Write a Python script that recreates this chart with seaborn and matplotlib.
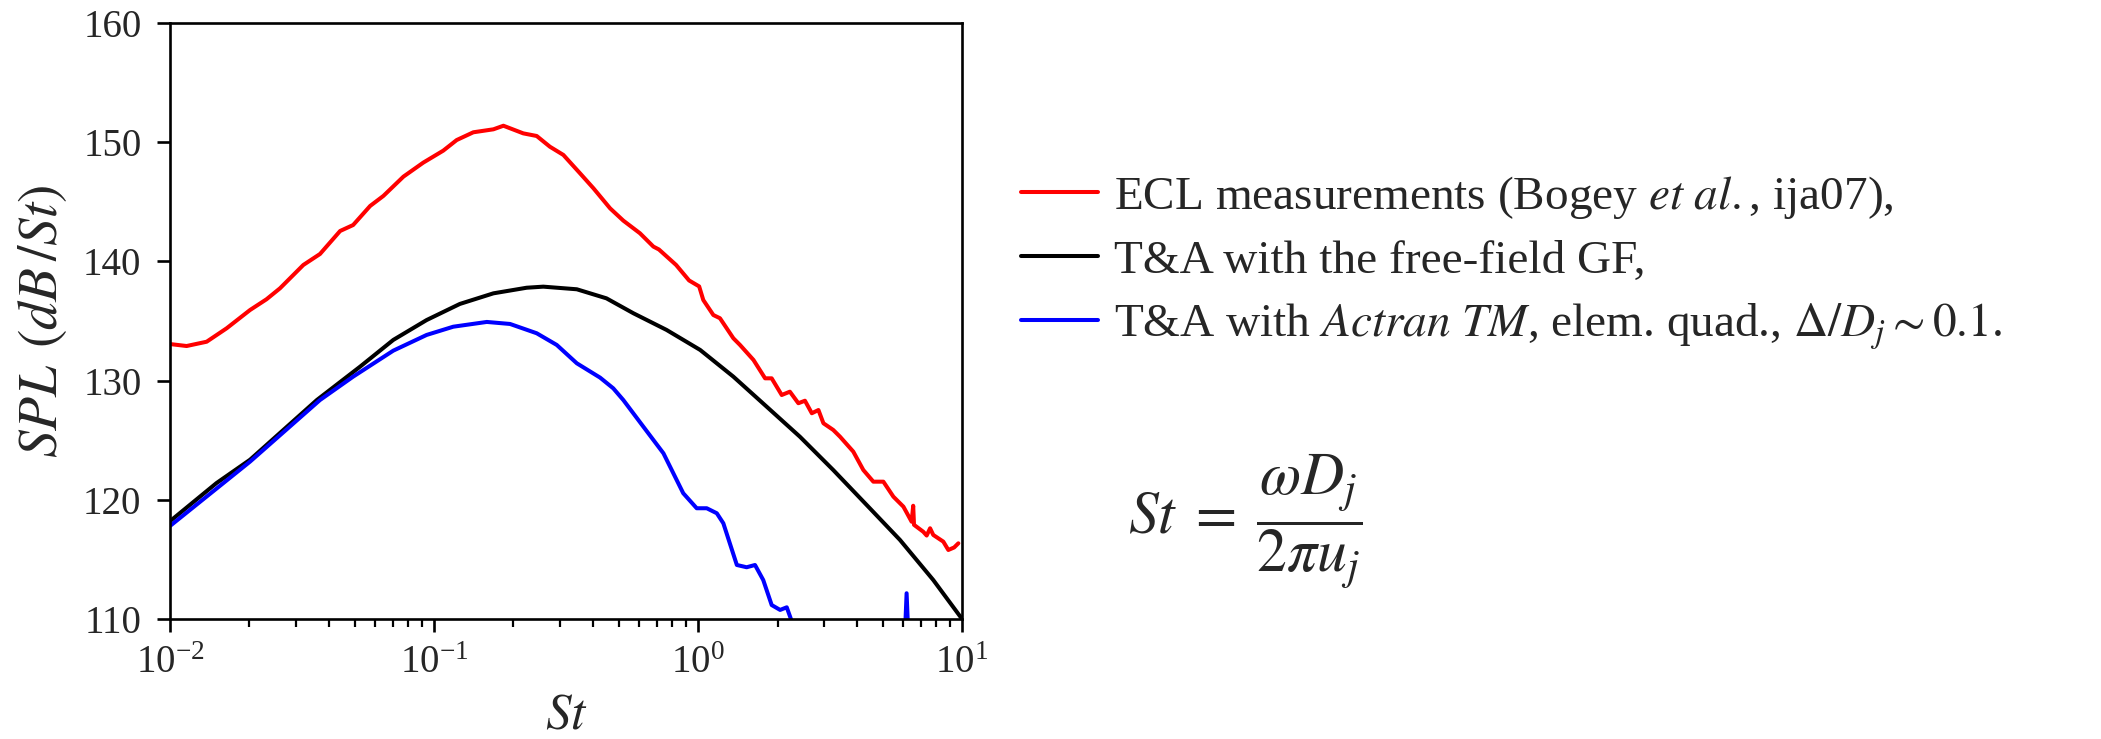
import matplotlib
matplotlib.use("Agg")
import matplotlib.pyplot as plt
import seaborn as sns
import pandas as pd

# ---------------- data ----------------
ecl_st = [0.01014, 0.01156, 0.01377, 0.0164, 0.0201, 0.0232, 0.0261, 0.0320, 0.0370,
          0.0441, 0.0494, 0.0573, 0.0643, 0.0766, 0.0910, 0.1084, 0.1219, 0.1409,
          0.1679, 0.1832, 0.2178, 0.2449, 0.2748, 0.3090, 0.3573, 0.4018, 0.4645,
          0.5212, 0.6026, 0.6776, 0.711, 0.826, 0.925, 1.01, 1.047, 1.143, 1.211,
          1.361, 1.442, 1.622, 1.795, 1.901, 2.075, 2.228, 2.399, 2.541, 2.698, 2.858,
          2.985, 3.251, 3.451, 3.873, 4.227, 4.613, 5.035, 5.495, 5.998, 6.442, 6.531,
          6.577, 7.129, 7.345, 7.568, 7.780, 8.492, 8.872, 9.333, 9.683]
ecl_spl = [133.05, 132.9, 133.26, 134.39, 135.92, 136.82, 137.74, 139.70, 140.62,
           142.55, 143.05, 144.65, 145.49, 147.11, 148.28, 149.29, 150.18, 150.83,
           151.08, 151.38, 150.74, 150.52, 149.62, 148.93, 147.39, 146.13, 144.45,
           143.42, 142.36, 141.24, 141.0, 139.7, 138.4, 137.9, 136.76, 135.50, 135.23,
           133.55, 132.99, 131.73, 130.19, 130.19, 128.79, 129.07, 128.10, 128.31, 127.26,
           127.53, 126.42, 125.86, 125.29, 124.04, 122.50, 121.52, 121.52, 120.26, 119.42,
           118.16, 119.5, 117.9, 117.32, 117.0, 117.61, 117.05, 116.49, 115.79, 116.0,
           116.35]

ff_st = [0.01, 0.0150, 0.0201, 0.0360, 0.0525, 0.0701, 0.0938, 0.1253, 0.1679,
         0.2244, 0.2594, 0.3475, 0.45, 0.5689, 0.760, 1.019, 1.361, 1.820, 2.432,
         3.251, 4.355, 5.821, 7.780, 10.0]
ff_spl = [118.2, 121.4, 123.36, 128.37, 131.17, 133.41, 135.08, 136.43, 137.32,
          137.79, 137.88, 137.66, 136.9, 135.65, 134.25, 132.57, 130.33, 127.81, 125.29,
          122.50, 119.56, 116.63, 113.27, 110.0]

act_st = [0.01, 0.0201, 0.0370, 0.0494, 0.0701, 0.0938, 0.1183, 0.1585, 0.1941,
          0.2449, 0.2917, 0.3475, 0.4256, 0.4775, 0.5212, 0.6209, 0.7396, 0.8790,
          0.9886, 1.079, 1.178, 1.247, 1.403, 1.528, 1.644, 1.766, 1.901, 2.046,
          2.168, 2.265, 2.5, 3.5, 5.0, 5.957, 6.166, 6.383, 7.5, 9.5]
act_spl = [117.8, 123.2, 128.37, 130.33, 132.51, 133.83, 134.52, 134.92, 134.75,
           133.97, 132.99, 131.45, 130.25, 129.35, 128.37, 126.13, 123.90, 120.55,
           119.29, 119.29, 118.87, 118.03, 114.53, 114.34, 114.53, 113.27, 111.17, 110.76,
           110.98, 109.8, 107.0, 104.0, 102.0, 104.0, 112.16, 104.0, 100.0, 98.0]

labels = [r"ECL measurements (Bogey $\mathit{et\ al.}$, ija07),",
          r"T&A with the free-field GF,",
          r"T&A with $\mathit{Actran\ TM}$, elem. quad., $\Delta/D_j \sim 0.1$."]
colors = ["#ff0000", "#000000", "#0000ff"]

x_ticks = [0.01, 0.1, 1, 10]
y_ticks = [110, 120, 130, 140, 150, 160]

# ---------------- style ----------------
sns.set_style("ticks")
plt.rcParams["font.family"] = ["Liberation Serif", "DejaVu Serif"]
plt.rcParams["mathtext.fontset"] = "stix"

fig = plt.figure(figsize=(21.01, 7.39), dpi=100)
ax = fig.add_axes([0.0809, 0.1624, 0.377, 0.8065])

series = [(ecl_st, ecl_spl), (ff_st, ff_spl), (act_st, act_spl)]
for (xs, ys), lab, col in zip(series, labels, colors):
    df = pd.DataFrame({"St": xs, "SPL": ys})
    sns.lineplot(data=df, x="St", y="SPL", ax=ax, color=col, lw=2.9,
                 estimator=None, sort=False, label=lab)

ax.set_xscale("log")
ax.set_xlim(0.01, 10)
ax.set_ylim(110, 160)
ax.set_xticks(x_ticks)
ax.set_yticks(y_ticks)

for sp in ax.spines.values():
    sp.set_visible(True)
    sp.set_linewidth(1.9)
    sp.set_color("black")

ax.tick_params(axis="both", which="major", length=9.5, width=1.9, labelsize=28,
               color="black", direction="out")
ax.tick_params(axis="x", which="minor", length=5.5, width=1.6, color="black")
ax.tick_params(axis="y", which="major", pad=11)
ax.tick_params(axis="x", which="major", pad=9)

ax.set_xlabel(r"$St$", fontsize=37, labelpad=8)
ax.set_ylabel(r"$SPL\;\,(dB\,/St)$", fontsize=40, labelpad=10)

ax.get_legend().remove()
handles, labs = ax.get_legend_handles_labels()
fig.legend(handles, labs, loc="center left", bbox_to_anchor=(0.486, 0.644),
           frameon=False, fontsize=34, handlelength=1.62, handletextpad=0.35,
           labelspacing=0.4, borderpad=0, borderaxespad=0)

fig.text(0.537, 0.295, r"$St\;=\;\dfrac{\omega D_j}{2\pi u_j}$", fontsize=43,
         va="center", ha="left")

fig.savefig("out.png", dpi=100)
